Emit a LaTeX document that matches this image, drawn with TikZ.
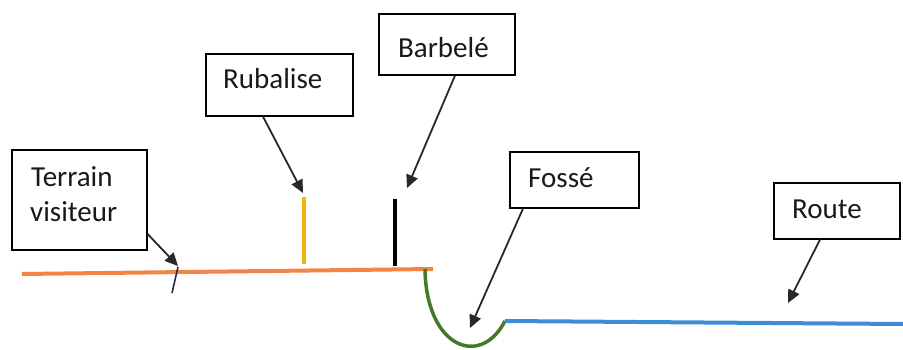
\documentclass[tikz,border=0pt]{standalone}
\usepackage{fontspec}
\setmainfont{Carlito}
\usetikzlibrary{arrows.meta}
\definecolor{ink}{RGB}{25,25,25}
\definecolor{arr}{RGB}{40,40,40}
\definecolor{orangeL}{RGB}{242,132,70}
\definecolor{yellowL}{RGB}{240,180,20}
\definecolor{greenL}{RGB}{70,120,40}
\definecolor{blueL}{RGB}{60,140,215}
\definecolor{navy}{RGB}{40,40,80}
\begin{document}
\begin{tikzpicture}[x=1pt,y=1pt,
  labelbox/.style={draw=black,line width=1.2pt,minimum width=#1,inner sep=0pt},
  lbl/.style={anchor=base west,inner sep=0pt,text=ink,font=\fontsize{29}{35}\selectfont},
  pointer/.style={draw=arr,line width=1.8pt,-{Triangle[length=13pt,width=12pt]}},
  ground/.style={line width=4pt}]
\useasboundingbox (0,0) rectangle (903,349);
% boxes
\node[labelbox=135pt,minimum height=100pt] (bT) at (79.5,149) {};
\node[labelbox=147pt,minimum height=62pt] (bR) at (279.5,264) {};
\node[labelbox=136pt,minimum height=61pt] (bB) at (447,304.5) {};
\node[labelbox=129pt,minimum height=56pt] (bF) at (574.5,169) {};
\node[labelbox=126pt,minimum height=56pt] (bRo) at (837,138) {};
% texts
\node[lbl] (tT1) at (31,163) {Terrain};
\node[lbl] (tT2) at (30,128) {visiteur};
\node[lbl] (tR) at (223,261) {Rubalise};
\node[lbl] (tB) at (398,291) {Barbelé};
\node[lbl] (tF) at (528,162) {Fossé};
\node[lbl] (tRo) at (792,131) {Route};
% ground lines
\coordinate (oL) at (22,75);
\coordinate (oR) at (433,80);
\draw[ground,orangeL] (oL) -- (oR);
\coordinate (y1) at (304,85);
\coordinate (y2) at (304,152);
\draw[ground,yellowL] (y1) -- (y2);
\coordinate (k1) at (395,83);
\coordinate (k2) at (395,150);
\draw[ground,black] (k1) -- (k2);
\coordinate (gS) at (425,80);
\coordinate (g2) at (505,28);
\draw[line width=3.5pt,greenL] (gS) .. controls (426,2) and (480,-20) .. (g2);
\coordinate (bl2) at (903,25);
\draw[ground,blueL] (g2) -- (bl2);
\coordinate (tk1) at (178,82);
\coordinate (tk2) at (172,56);
\draw[navy,line width=1.6pt] (tk1) -- (tk2);
% pointers
\coordinate (pT) at (178,83);
\coordinate (pR) at (303,156);
\coordinate (pB) at (407,161);
\coordinate (pF) at (470,21);
\coordinate (pRo) at (788,46);
\draw[pointer] ([yshift=-34pt]bT.east) -- (pT);
\draw[pointer] ([xshift=-16.5pt]bR.south) -- (pR);
\draw[pointer] ([xshift=8pt]bB.south) -- (pB);
\draw[pointer] ([xshift=-51.5pt]bF.south) -- (pF);
\draw[pointer] ([xshift=-17pt]bRo.south) -- (pRo);
\end{tikzpicture}
\end{document}
